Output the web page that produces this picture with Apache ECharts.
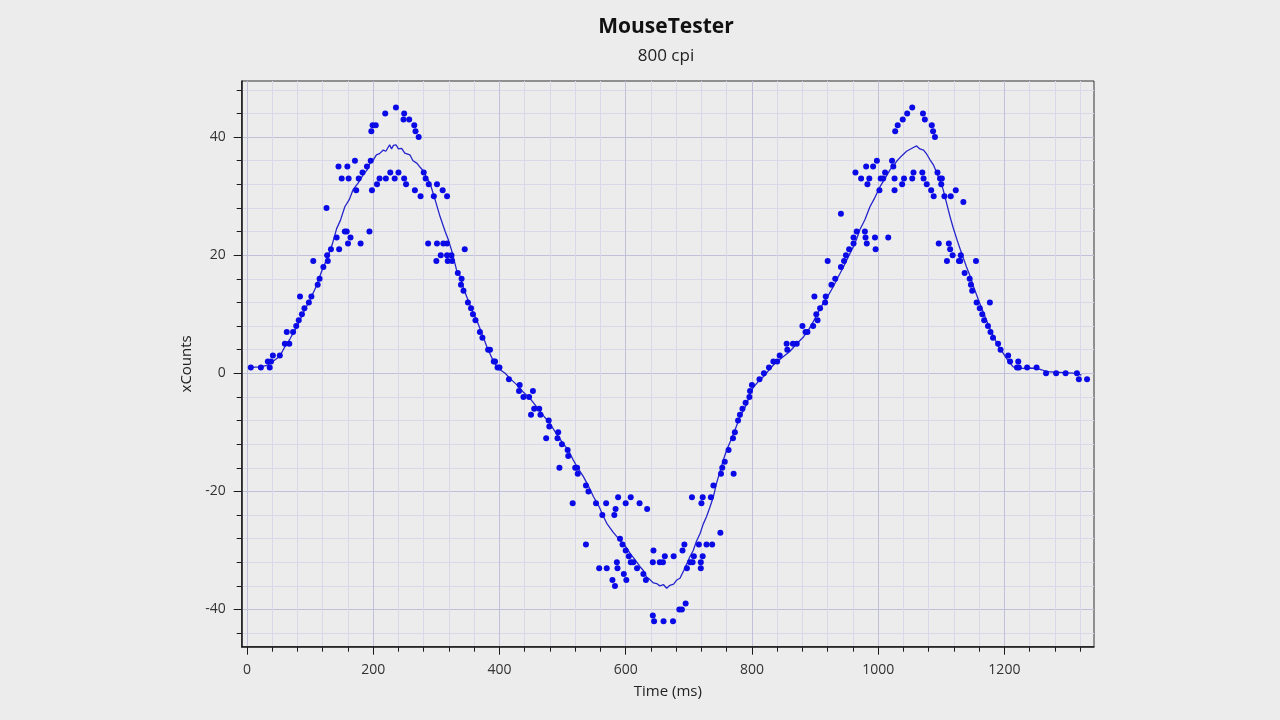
<!DOCTYPE html>
<html>
<head>
<meta charset="utf-8">
<script src="https://cdn.jsdelivr.net/npm/echarts@6/dist/echarts.min.js"></script>
<style>
html,body{margin:0;padding:0;background:#ececec;}
#chart{width:1280px;height:720px;}
</style>
</head>
<body>
<div id="chart"></div>
<script>
const titleText = 'MouseTester';
const subtitleText = '800 cpi';
const xAxisName = 'Time (ms)';
const yAxisName = 'xCounts';
const xMajorTicks = [0, 200, 400, 600, 800, 1000, 1200];
const xMinorTicks = [40,80,120,160,240,280,320,360,440,480,520,560,640,680,720,760,840,880,920,960,1040,1080,1120,1160,1240,1280,1320];
const yMajorTicks = [-40, -20, 0, 20, 40];
const yMinorTicks = [-44,-36,-32,-28,-24,-16,-12,-8,-4,4,8,12,16,24,28,32,36,44,48];
const xRange = [-8.4, 1342];
const yRange = [-46.3, 49.5];

// individual reports: [time ms, xCounts]
const dots = [
[6,1],[22,1],[33,2],[36,1],[38,2],[41,3],[52,3],[60,5],[63,7],[67,5],[73,7],[78,8],[82,9],[84,13],[87,10],[91,11],[98,12],[102,13],[105,19],[112,15],[115,16],[121,18],[126,28],[127,20],[128,19],[133,21],[142,23],[145,35],[146,21],[150,33],[155,24],[158,24],[159,35],[160,22],[161,33],[164,23],[171,36],[173,31],[177,33],[180,22],[183,34],[190,35],[194,24],[196,36],[197,41],[198,31],[199,42],[204,42],[206,32],[210,33],[219,44],[220,33],[227,34],[234,33],[236,45],[240,34],[248,43],[249,44],[249,33],[252,32],[257,43],[265,42],[266,31],[267,41],[272,40],[275,30],[280,34],[283,33],[287,22],[288,32],[296,30],[300,19],[301,32],[301,22],[307,20],[310,31],[311,22],[317,20],[317,30],[317,22],[318,19],[324,20],[325,19],[334,17],[339,15],[340,16],[343,14],[345,21],[350,12],[355,11],[358,10],[362,9],[369,7],[373,6],[382,4],[385,4],[391,2],[393,2],[397,1],[400,1],
[415,-1],[431,-3],[432,-2],[438,-4],[447,-4],[450,-7],[453,-3],[455,-6],[463,-6],[465,-7],[474,-11],[478,-8],[479,-9],[492,-11],[493,-10],[495,-16],[499,-12],[508,-13],[509,-14],[516,-22],[520,-16],[523,-16],[524,-17],[537,-19],[537,-29],[541,-20],[553,-22],[558,-33],[563,-24],[569,-22],[570,-33],[579,-35],[582,-24],[583,-36],[584,-23],[586,-32],[587,-33],[588,-21],[591,-28],[595,-29],[597,-34],[600,-22],[600,-30],[601,-35],[605,-31],[608,-21],[608,-32],[612,-32],[618,-33],[622,-22],[628,-34],[632,-35],[634,-23],[643,-41],[643,-32],[644,-30],[645,-42],[654,-32],[659,-32],[660,-42],[662,-31],[675,-42],[676,-31],[685,-40],[689,-40],[690,-30],[693,-29],[695,-39],[697,-33],[702,-32],[705,-21],[706,-32],[708,-31],[716,-29],[719,-32],[719,-33],[720,-22],[722,-21],[722,-31],[728,-29],[735,-21],[737,-29],[739,-19],[750,-27],[751,-17],[753,-16],[757,-15],[763,-13],[770,-11],[771,-17],[773,-10],[778,-8],[781,-7],[785,-6],[790,-5],[796,-4],[797,-3],[800,-2],[812,-1],[819,0],[827,1],[834,2],[840,2],[844,3],[855,5],[856,4],[865,5],[871,5],[880,8],[885,7],[888,7],[897,8],[899,13],[902,10],[904,9],[908,11],[916,12],[917,13],[920,19],[926,15],[932,16],[941,18],[941,27],[946,19],[949,20],[954,21],[961,22],[961,23],[964,34],[966,24],[973,33],[979,24],[980,23],[981,35],[982,22],[983,32],[986,33],[992,35],[995,23],[996,21],[998,36],
[1002,31],[1004,33],[1008,33],[1011,34],[1016,23],[1022,36],[1024,35],[1026,33],[1026,31],[1027,41],[1031,42],[1038,32],[1039,43],[1041,33],[1046,44],[1054,45],[1054,33],[1056,34],[1070,34],[1071,44],[1072,33],[1074,43],[1077,32],[1084,31],[1085,42],[1087,41],[1088,30],[1090,40],[1094,34],[1096,22],[1098,33],[1100,32],[1101,33],[1105,30],[1109,19],[1112,22],[1114,21],[1115,30],[1118,20],[1123,31],[1128,19],[1130,19],[1131,20],[1135,29],[1137,17],[1145,16],[1147,15],[1149,14],[1155,19],[1156,12],[1161,11],[1165,10],[1168,9],[1174,8],[1177,12],[1178,7],[1182,6],[1190,5],[1194,4],[1206,3],[1209,2],[1220,1],[1222,2],[1223,1],[1236,1],[1251,1],[1266,0],[1282,0],[1297,0],[1315,0],[1318,-1],[1331,-1]
];

// smoothed trace: [time ms, xCounts]
const trace = [
[6,1.0],[22,1.1],[33,1.4],[42,2.1],[52,2.9],[60,4.5],[68,5.8],[79,7.9],[89,10.2],[100,12.5],[110,14.8],[118,17.2],[127,19.5],[135,21.8],[142,24.5],[148,25.9],[155,28.2],[162,29.4],[168,31.1],[176,32.2],[184,33.6],[190,34.4],[195,35.6],[200,36.1],[205,37],[210,37.2],[216,37.8],[220,37.6],[226,38.7],[229,38.0],[232,38.6],[236,38.7],[240,38.0],[245,38.1],[250,37.3],[258,37],[263,36.0],[269,35.6],[275,34.8],[280,34.2],[285,33.0],[290,32.2],[298,29.4],[306,26.5],[314,24],[319,22.6],[324,20.9],[332,17.5],[338,16.4],[343,14.4],[348,13],[356,10.8],[364,9],[372,6.8],[380,4.5],[388,2.6],[396,1.1],[401,0.6],[409,0.0],[417,-0.9],[428,-2.0],[438,-3.2],[448,-4.2],[459,-5.7],[470,-7.2],[480,-8.5],[490,-10.2],[501,-11.9],[509,-13.0],[517,-14.7],[525,-16.2],[533,-17.5],[541,-19.1],[549,-20.9],[557,-22.4],[565,-24.3],[570,-25.4],[580,-26.9],[591,-28.3],[599,-29.2],[607,-30.5],[615,-31.6],[623,-32.8],[628,-33.4],[633,-34.5],[638,-34.9],[644,-35.5],[649,-35.6],[654,-36],[660,-35.8],[665,-36.4],[670,-35.9],[676,-35.7],[681,-35.0],[686,-34.7],[692,-33.4],[697,-32.2],[702,-31.0],[707,-30],[712,-28.5],[718,-27.1],[723,-25.5],[728,-24.3],[733,-22.8],[739,-20.9],[744,-18.6],[750,-16.4],[755,-14.6],[760,-13],[766,-11.5],[771,-10.2],[776,-8.8],[781,-7.4],[787,-6.2],[792,-5.1],[797,-3.6],[802,-2.4],[810,-1.4],[818,-0.6],[826,0.4],[834,1.4],[847,2.6],[860,3.7],[871,5.0],[882,6.2],[890,7.4],[897,8.7],[905,10.3],[913,11.9],[921,13.2],[929,14.7],[937,16.4],[945,18],[953,19.8],[961,21.5],[966,22.8],[971,24.3],[979,26.0],[987,28.2],[995,29.8],[1003,31.6],[1011,33.0],[1019,34.5],[1025,35.2],[1030,36],[1038,36.9],[1045,37.6],[1050,37.9],[1055,38.2],[1061,38.5],[1066,38.0],[1072,37.8],[1077,37.1],[1082,36.2],[1088,35.2],[1093,33.9],[1098,32.7],[1103,31.1],[1108,29.0],[1114,26.5],[1119,24.6],[1125,22.6],[1130,21.0],[1135,19.5],[1140,18.0],[1146,16.4],[1151,14.7],[1159,12.4],[1167,10.2],[1175,8.1],[1183,6.2],[1190,4.7],[1198,3.4],[1206,2.1],[1214,1.1],[1222,0.9],[1230,0.85],[1240,0.9],[1251,0.85],[1259,0.6],[1267,0.3],[1280,0.2],[1295,0.1],[1315,0],[1322,-0.3]
];

const chart = echarts.init(document.getElementById('chart'));
const labelFont = 'Open Sans, Noto Sans, sans-serif';
const minorGrid = '#d8d8e8';
const majorGrid = '#c0c0d8';
const axisBlack = '#1a1a1a';
const plainNumber = v => String(v);

chart.setOption({
  animation: false,
  backgroundColor: '#ececec',
  title: [
    { text: titleText, left: 666, top: 27, textAlign: 'center', textVerticalAlign: 'middle', padding: 0,
      textStyle: { fontFamily: labelFont, fontSize: 21, fontWeight: 'bold', color: '#111' } },
    { text: subtitleText, left: 666, top: 56.5, textAlign: 'center', textVerticalAlign: 'middle', padding: 0,
      textStyle: { fontFamily: labelFont, fontSize: 17, fontWeight: 'normal', color: '#222' } }
  ],
  grid: {
    left: 241.7, right: 186, top: 81, bottom: 73.3,
    show: true, borderColor: '#333', borderWidth: 1, backgroundColor: 'transparent'
  },
  xAxis: [
    { type: 'value', position: 'bottom', min: xRange[0], max: xRange[1],
      axisLine: { show: true, onZero: false, lineStyle: { color: axisBlack, width: 1.5 } },
      axisTick: { show: true, length: 5, customValues: xMinorTicks, lineStyle: { color: axisBlack } },
      axisLabel: { show: false },
      splitLine: { show: true, lineStyle: { color: minorGrid, width: 1 } } },
    { type: 'value', position: 'bottom', min: xRange[0], max: xRange[1],
      name: xAxisName, nameLocation: 'middle', nameGap: 38,
      nameTextStyle: { fontFamily: labelFont, fontSize: 15, color: '#222' },
      axisLine: { show: false, onZero: false },
      axisTick: { show: true, length: 8, customValues: xMajorTicks, lineStyle: { color: axisBlack } },
      axisLabel: { show: true, customValues: xMajorTicks, formatter: plainNumber, margin: 16, fontFamily: labelFont, fontSize: 14, color: '#333' },
      splitLine: { show: true, lineStyle: { color: majorGrid, width: 1 } } }
  ],
  yAxis: [
    { type: 'value', position: 'left', min: yRange[0], max: yRange[1],
      axisLine: { show: true, onZero: false, lineStyle: { color: axisBlack, width: 1.5 } },
      axisTick: { show: true, length: 5, customValues: yMinorTicks, lineStyle: { color: axisBlack } },
      axisLabel: { show: false },
      splitLine: { show: true, lineStyle: { color: minorGrid, width: 1 } } },
    { type: 'value', position: 'left', min: yRange[0], max: yRange[1],
      name: yAxisName, nameLocation: 'middle', nameGap: 46, nameRotate: 90,
      nameTextStyle: { fontFamily: labelFont, fontSize: 15, color: '#222' },
      axisLine: { show: false, onZero: false },
      axisTick: { show: true, length: 8, customValues: yMajorTicks, lineStyle: { color: axisBlack } },
      axisLabel: { show: true, customValues: yMajorTicks, formatter: plainNumber, margin: 16, fontFamily: labelFont, fontSize: 14, color: '#333' },
      splitLine: { show: true, lineStyle: { color: majorGrid, width: 1 } } }
  ],
  series: [
    { type: 'line', xAxisIndex: 0, yAxisIndex: 0, data: trace, showSymbol: false, symbol: 'none',
      lineStyle: { color: '#2424cc', width: 1.3 }, z: 3 },
    { type: 'scatter', xAxisIndex: 0, yAxisIndex: 0, data: dots, symbol: 'circle', symbolSize: 6,
      itemStyle: { color: '#0a0ae6', opacity: 1 }, z: 4 }
  ]
});
</script>
</body>
</html>
